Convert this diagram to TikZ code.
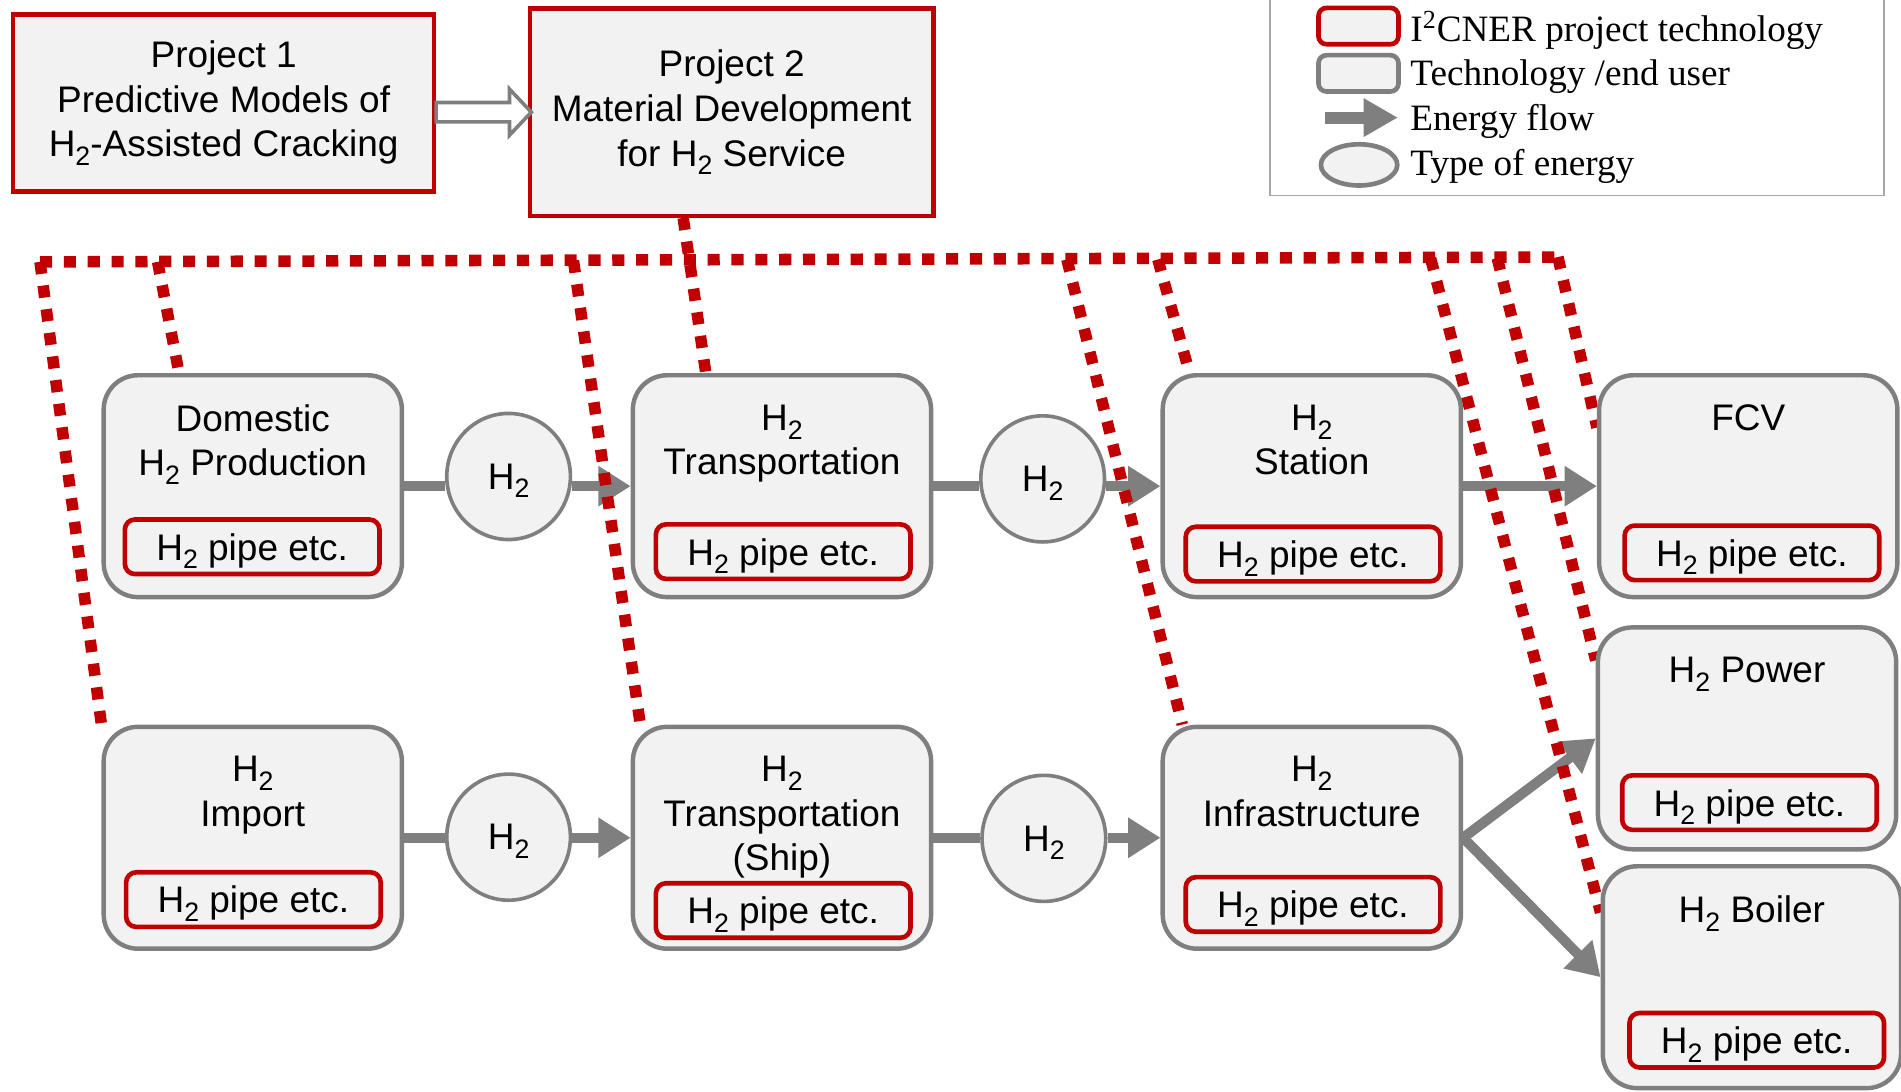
\documentclass[tikz,border=0pt]{standalone}
\usepackage{fontspec}
\setmainfont{Liberation Sans}
\newfontfamily\legendfont{Liberation Serif}
\usetikzlibrary{arrows.meta,calc,shapes.geometric}
\newdimen\pxu \pxu=0.6pt
\definecolor{ired}{HTML}{C00000}
\definecolor{bgray}{HTML}{7F7F7F}
\definecolor{boxfill}{HTML}{F2F2F2}
\newcommand{\Htwo}{H\raisebox{-4.3pt}{\fontsize{13.2}{13.2}\selectfont 2}}
\pgfdeclarelayer{flows}
\pgfdeclarelayer{links}
\pgfsetlayers{flows,links,main}
\begin{document}
\begin{tikzpicture}[x=0.6pt,y=-0.6pt,
  font=\fontsize{18.3}{21.9}\selectfont,
  bigbox/.style={draw=bgray, line width=2.2pt, fill=boxfill, rounded corners=17pt,
    minimum width=246\pxu, minimum height=183\pxu, inner sep=0pt},
  pipebox/.style={draw=ired, line width=2.3pt, fill=boxfill, rounded corners=5pt,
    minimum width=210\pxu, minimum height=45\pxu, inner sep=0pt, text depth=0pt},
  title/.style={anchor=north, inner sep=0pt, align=center},
  energy/.style={ellipse, draw=bgray, line width=1.8pt, fill=boxfill,
    minimum width=102\pxu, minimum height=104\pxu, inner sep=0pt, text depth=0pt},
  projbox/.style={draw=ired, line width=2.1pt, fill=boxfill, inner sep=0pt, align=center,
    font=\fontsize{18.3}{22.2}\selectfont},
  flow/.style={draw=bgray, line width=5pt, -{Triangle[length=16pt,width=19pt]}},
  flowline/.style={draw=bgray, line width=5pt},
  link/.style={draw=ired, line width=5.7pt, dash pattern=on 6pt off 5.8pt},
  hollow/.style={draw=bgray, line width=1.8pt, fill=white, line join=miter},
  legtext/.style={anchor=west, inner sep=0pt, text depth=0pt,
    font=\legendfont\fontsize{18.4}{22}\selectfont},
]
\useasboundingbox (0,0) rectangle (1568,900);
\clip (0,0) rectangle (1568,900);

% ---------- legend ----------
\node[draw=gray!70, line width=0.9pt, fill=white, minimum width=506\pxu, minimum height=220\pxu,
  anchor=south west, inner sep=0pt] (legend) at (1047,162) {};
\node[draw=ired, line width=2.3pt, fill=boxfill, rounded corners=4pt,
  minimum width=66\pxu, minimum height=30\pxu, inner sep=0pt] (lg1) at (1120.5,21.5) {};
\node[draw=bgray, line width=2.3pt, fill=boxfill, rounded corners=4pt,
  minimum width=66\pxu, minimum height=30\pxu, inner sep=0pt] (lg2) at (1120.5,60.5) {};
\coordinate (lg3a) at (1093,97);
\coordinate (lg3b) at (1153,97);
\draw[draw=bgray, line width=6pt, -{Triangle[length=17pt,width=18pt]}] (lg3a) -- (lg3b);
\node[ellipse, draw=bgray, line width=2.3pt, fill=boxfill,
  minimum width=63\pxu, minimum height=34\pxu, inner sep=0pt] (lg4) at (1121,136) {};
\node[legtext] (lt1) at (1163,22) {I\textsuperscript{2}CNER project technology};
\node[legtext] (lt2) at (1163,60) {Technology /end user};
\node[legtext] (lt3) at (1163,97) {Energy flow};
\node[legtext] (lt4) at (1163,134) {Type of energy};

% ---------- projects ----------
\node[projbox, minimum width=347\pxu, minimum height=146\pxu] (p1) at (184.5,85)
  {Project 1\\Predictive Models of\\\Htwo-Assisted Cracking};
\node[projbox, minimum width=333\pxu, minimum height=171\pxu] (p2) at (603.5,92.5)
  {Project 2\\Material Development\\for \Htwo{} Service};
\coordinate (ha0) at (p1.east |- p2.west);
\draw[hollow] ($(ha0)+(0,-8)$) -- ($(p2.west)+(-15,-8)$) -- ($(p2.west)+(-15,-19)$)
  -- ($(p2.west)+(3,0)$) -- ($(p2.west)+(-15,19)$) -- ($(p2.west)+(-15,8)$)
  -- ($(ha0)+(0,8)$) -- cycle;

% ---------- main boxes ----------
\node[bigbox] (dom)  at (208.5,401) {};
\node[bigbox] (tr)   at (645,401) {};
\node[bigbox] (st)   at (1082,401) {};
\node[bigbox] (fcv)  at (1442,401) {};
\node[bigbox] (imp)  at (208.5,691) {};
\node[bigbox] (ship) at (645,691) {};
\node[bigbox] (inf)  at (1082,691) {};
\node[bigbox] (pw)   at (1441,609) {};
\node[bigbox] (bo)   at (1445,806) {};

\node[title] (dom-t)  at ($(dom.north)+(0,26)$)  {Domestic\\\Htwo{} Production};
\node[title] (tr-t)   at ($(tr.north)+(0,26)$)   {\Htwo\\Transportation};
\node[title] (st-t)   at ($(st.north)+(0,26)$)   {\Htwo\\Station};
\node[title] (fcv-t)  at ($(fcv.north)+(0,26)$)  {FCV};
\node[title] (imp-t)  at ($(imp.north)+(0,26)$)  {\Htwo\\Import};
\node[title] (ship-t) at ($(ship.north)+(0,26)$) {\Htwo\\Transportation\\(Ship)};
\node[title] (inf-t)  at ($(inf.north)+(0,26)$)  {\Htwo\\Infrastructure};
\node[title] (pw-t)   at ($(pw.north)+(0,26)$)   {\Htwo{} Power};
\node[title] (bo-t)   at ($(bo.north)+(0,26)$)   {\Htwo{} Boiler};

\node[pipebox] (dom-p)  at (208,451)  {\Htwo{} pipe etc.};
\node[pipebox] (tr-p)   at (646,455)  {\Htwo{} pipe etc.};
\node[pipebox] (st-p)   at (1083,457) {\Htwo{} pipe etc.};
\node[pipebox] (fcv-p)  at (1445,456) {\Htwo{} pipe etc.};
\node[pipebox] (imp-p)  at (209,742)  {\Htwo{} pipe etc.};
\node[pipebox] (ship-p) at (646,751)  {\Htwo{} pipe etc.};
\node[pipebox] (inf-p)  at (1083,746) {\Htwo{} pipe etc.};
\node[pipebox] (pw-p)   at (1443,662) {\Htwo{} pipe etc.};
\node[pipebox] (bo-p)   at (1449,858) {\Htwo{} pipe etc.};

% ---------- energy carriers ----------
\node[energy] (c1) at (419.5,393) {\Htwo};
\node[energy] (c2) at (860,395) {\Htwo};
\node[energy] (c3) at (419.5,690.5) {\Htwo};
\node[energy] (c4) at (861,691.5) {\Htwo};

% ---------- energy flows ----------
\begin{pgfonlayer}{flows}
\draw[flowline] (dom.east) -- (c1.west |- dom.east);
\draw[flow] (c1.east |- dom.east) -- (tr.west);
\draw[flowline] (tr.east) -- (c2.west |- tr.east);
\draw[flow] (c2.east |- tr.east) -- (st.west);
\draw[flow] (st.east) -- (fcv.west);
\draw[flowline] (imp.east) -- (c3.west |- imp.east);
\draw[flow] (c3.east |- imp.east) -- (ship.west);
\draw[flowline] (ship.east) -- (c4.west |- ship.east);
\draw[flow] (c4.east |- ship.east) -- (inf.west);
\draw[flow] (inf.east) -- (pw.west);
\draw[flow] (inf.east) -- (bo.west);
\end{pgfonlayer}

% ---------- project links ----------
\coordinate (h0) at (33,216);
\coordinate (h1) at (130,216);
\coordinate (h2) at (473,215);
\coordinate (h3) at (880,214);
\coordinate (h4) at (955,214);
\coordinate (h5) at (1180,213);
\coordinate (h6) at (1235,213);
\coordinate (h7) at (1285,212);
\begin{pgfonlayer}{links}
\draw[link] (h0) -- (h7);
\draw[link] (h0) -- (imp.north west);
\draw[link] (h1) -- ($(dom.north west)+(64,0)$);
\draw[link] (h2) -- ($(ship.north west)+(8,0)$);
\draw[link] ($(p2.south)+(-40,0)$) -- ($(tr.north west)+(62,0)$);
\draw[link] (h3) -- ($(inf.north west)+(18,0)$);
\draw[link] (h4) -- ($(st.north west)+(24,0)$);
\draw[link] (h5) -- ($(bo.north west)+(0,40)$);
\draw[link] (h6) -- ($(pw.north west)+(0,29)$);
\draw[link] (h7) -- ($(fcv.north west)+(0,45)$);
\end{pgfonlayer}
\end{tikzpicture}
\end{document}
